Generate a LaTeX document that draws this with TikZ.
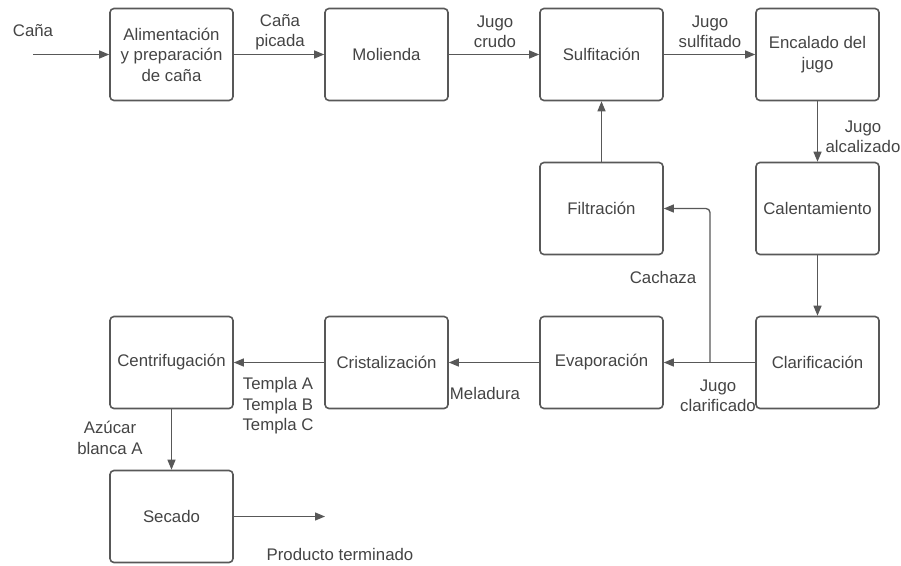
\documentclass[tikz,border=0pt]{standalone}
\usepackage{fontspec}
\setmainfont{Liberation Sans}
\usetikzlibrary{arrows.meta}
\definecolor{linegray}{RGB}{88,88,88}
\definecolor{textgray}{RGB}{68,68,68}
\begin{document}
\begin{tikzpicture}[x=1pt,y=-1pt,
  font=\fontsize{16.8pt}{20.5pt}\selectfont,
  stepbox/.style={draw=linegray, line width=1.6pt, rounded corners=4pt,
    minimum width=123pt, minimum height=92pt, align=center,
    text=textgray, inner sep=2pt},
  lbl/.style={align=center, text=textgray, inner sep=0pt},
  flow/.style={draw=linegray, line width=1.3pt,
    -{Triangle[length=10pt,width=8pt]}},
]
\useasboundingbox (0,0) rectangle (901,565);

% process boxes
\node[stepbox] (alim)  at (171.5,54.5)  {Alimentación\\y preparación\\de caña};
\node[stepbox] (mol)   at (386.5,54.5)  {Molienda};
\node[stepbox] (sulf)  at (601.5,54.5)  {Sulfitación};
\node[stepbox] (enc)   at (817.5,54.5)  {Encalado del\\jugo};
\node[stepbox] (filt)  at (601.5,208.5) {Filtración};
\node[stepbox] (cal)   at (817.5,208.5) {Calentamiento};
\node[stepbox] (centr) at (171.5,362.5) {Centrifugación};
\node[stepbox] (crist) at (386.5,362.5) {Cristalización};
\node[stepbox] (evap)  at (601.5,362.5) {Evaporación};
\node[stepbox] (clar)  at (817.5,362.5) {Clarificación};
\node[stepbox] (sec)   at (171.5,516.5) {Secado};

% free ends
\coordinate (in)  at (33,54.5);
\coordinate (out) at (325,516.5);
\coordinate (branch) at (710,362.5);

% connectors
\draw[flow] (in) -- (alim);
\draw[flow] (alim) -- (mol);
\draw[flow] (mol) -- (sulf);
\draw[flow] (sulf) -- (enc);
\draw[flow] (enc) -- (cal);
\draw[flow] (cal) -- (clar);
\draw[flow] (filt) -- (sulf);
\draw[flow] (clar) -- (evap);
\draw[flow, rounded corners=4pt] (branch) |- (filt.east);
\draw[flow] (evap) -- (crist);
\draw[flow] (crist) -- (centr);
\draw[flow] (centr) -- (sec);
\draw[flow] (sec) -- (out);

% stream labels
\node[lbl] (lcana)  at (33,31)   {Caña};
\node[lbl] (lpic)   at (280,32)  {Caña\\picada};
\node[lbl] (lcrudo) at (495,32)  {Jugo\\crudo};
\node[lbl] (lsulf)  at (710,32)  {Jugo\\sulfitado};
\node[lbl] (lalc)   at (863,137) {Jugo\\alcalizado};
\node[lbl] (lcach)  at (663,277) {Cachaza};
\node[lbl] (lclar)  at (718,396) {Jugo\\clarificado};
\node[lbl] (lmel)   at (485,393) {Meladura};
\node[lbl] (ltempl) at (278,406) {Templa A\\Templa B\\Templa C};
\node[lbl] (lazuc)  at (110,438) {Azúcar\\blanca A};
\node[lbl] (lprod)  at (340,554) {Producto terminado};
\end{tikzpicture}
\end{document}
